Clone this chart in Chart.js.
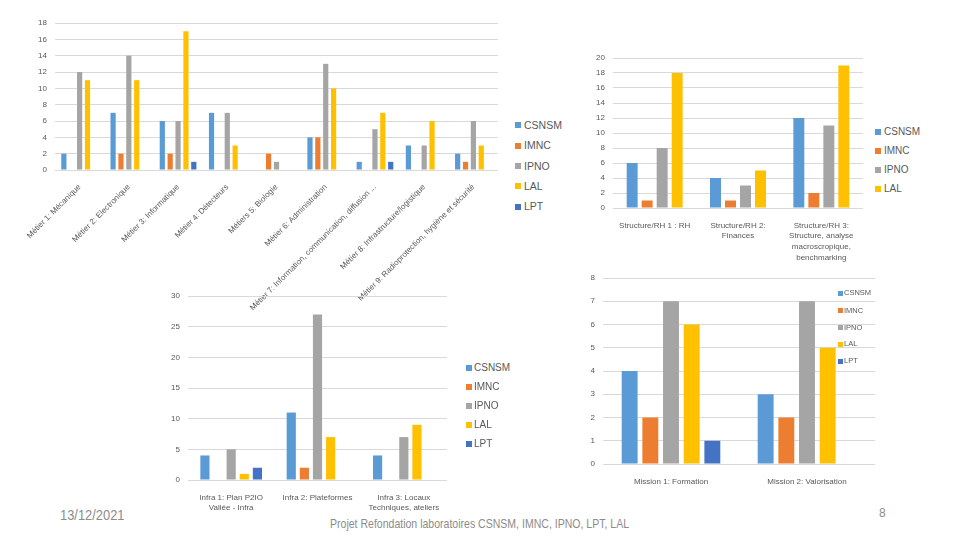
<!DOCTYPE html>
<html><head><meta charset="utf-8">
<script src="https://cdn.jsdelivr.net/npm/chart.js@4"></script>
<style>
body{margin:0;width:960px;height:540px;background:#fff;position:relative;overflow:hidden;font-family:'Liberation Sans',Arial,sans-serif}
canvas{position:absolute}
.lg{position:absolute;white-space:nowrap;color:#595959}
.lg span{position:absolute;display:block}
.ft{position:absolute;color:#8c8c8c;white-space:nowrap;transform-origin:left top}
</style></head><body>
<canvas id="c1" width="480" height="297" style="left:20px;top:13px"></canvas>
<canvas id="c2" width="290" height="215" style="left:580px;top:48px"></canvas>
<canvas id="c3" width="300" height="226" style="left:150px;top:286px"></canvas>
<canvas id="c4" width="310" height="216" style="left:570px;top:268px"></canvas>
<div class="ft" style="left:60px;top:507px;font-size:14px;transform:scaleX(0.92)">13/12/2021</div>
<div class="ft" style="left:330px;top:516px;font-size:13px;transform:scaleX(0.81)">Projet Refondation laboratoires CSNSM, IMNC, IPNO, LPT, LAL</div>
<div class="ft" style="left:879px;top:506px;font-size:12px">8</div>
<script>
const seriesNames = ['CSNSM', 'IMNC', 'IPNO', 'LAL', 'LPT'];
const seriesColors = ['#5B9BD5', '#ED7D31', '#A5A5A5', '#FFC000', '#4472C4'];

// Chart 1 : Métiers
const metierLabels = ['Métier 1: Mécanique', 'Métier 2: Electronique', 'Métier 3: Informatique', 'Métier 4: Détecteurs', 'Métiers 5: Biologie', 'Métier 6: Administration', 'Métier 7: Information, communication, diffusion ...', 'Métier 8: Infrastructure/logistique', 'Métier 9: Radioprotection, hygiène et sécurité'];
const metierCSNSM = [2, 7, 6, 7, 0, 4, 1, 3, 2];
const metierIMNC  = [0, 2, 2, 0, 2, 4, 0, 0, 1];
const metierIPNO  = [12, 14, 6, 7, 1, 13, 5, 3, 6];
const metierLAL   = [11, 11, 17, 3, 0, 10, 7, 6, 3];
const metierLPT   = [0, 0, 1, 0, 0, 0, 1, 0, 0];

// Chart 2 : Structure/RH
const structLabels = ['Structure/RH 1 : RH', ['Structure/RH 2:', 'Finances'], ['Structure/RH 3:', 'Structure, analyse', 'macroscropique,', 'benchmarking']];
const structCSNSM = [6, 4, 12];
const structIMNC  = [1, 1, 2];
const structIPNO  = [8, 3, 11];
const structLAL   = [18, 5, 19];

// Chart 3 : Infra
const infraLabels = [['Infra 1: Plan P2IO', 'Vallée - Infra'], 'Infra 2: Plateformes', ['Infra 3: Locaux', 'Techniques, ateliers']];
const infraCSNSM = [4, 11, 4];
const infraIMNC  = [0, 2, 0];
const infraIPNO  = [5, 27, 7];
const infraLAL   = [1, 7, 9];
const infraLPT   = [2, 0, 0];

// Chart 4 : Missions
const missionLabels = ['Mission 1: Formation', 'Mission 2: Valorisation'];
const missionCSNSM = [4, 3];
const missionIMNC  = [2, 2];
const missionIPNO  = [7, 7];
const missionLAL   = [6, 5];
const missionLPT   = [1, 0];

Chart.defaults.font.family = "'Liberation Sans', Arial, sans-serif";
Chart.defaults.color = '#595959';

function ds(arrays, cat, bar) {
  return arrays.map((a, i) => ({label: seriesNames[i], data: a, backgroundColor: seriesColors[i],
    categoryPercentage: cat, barPercentage: bar}));
}

function makeChart(id, labels, datasets, c) {
  new Chart(document.getElementById(id), {
    type: 'bar',
    data: {labels: labels, datasets: datasets},
    options: {
      responsive: false, animation: false, devicePixelRatio: 1,
      layout: {padding: {top: c.padTop, right: c.padRight, left: 0, bottom: 0}},
      plugins: {legend: {display: false}, tooltip: {enabled: false}},
      scales: {
        x: {
          grid: {display: false}, border: {display: false},
          ticks: {autoSkip: false, maxRotation: c.rot, minRotation: c.rot, padding: c.xPad,
            font: {size: c.xFont, lineHeight: 1.35}, color: '#595959'},
          afterFit: s => { s.height = c.xH; s.paddingLeft = 0; s.paddingRight = 0; }
        },
        y: {
          min: 0, max: c.max,
          grid: {color: '#D9D9D9', drawTicks: false}, border: {display: false},
          ticks: {stepSize: c.step, padding: 8, font: {size: c.yFont}, color: '#595959'},
          afterFit: s => { s.width = c.yW; s.paddingTop = 0; s.paddingBottom = 0; }
        }
      }
    }
  });
}

makeChart('c1', metierLabels, ds([metierCSNSM, metierIMNC, metierIPNO, metierLAL, metierLPT], 0.8, 0.66),
  {padTop: 10, padRight: 2, xH: 140, yW: 35, max: 18, step: 2, rot: 45, xPad: 4, xFont: 8, yFont: 8});
makeChart('c2', structLabels, ds([structCSNSM, structIMNC, structIPNO, structLAL], 0.72, 0.73),
  {padTop: 10, padRight: 7, xH: 55, yW: 33, max: 20, step: 2, rot: 0, xPad: 4, xFont: 8, yFont: 8});
makeChart('c3', infraLabels, ds([infraCSNSM, infraIMNC, infraIPNO, infraLAL, infraLPT], 0.76, 0.7),
  {padTop: 10, padRight: 3, xH: 32, yW: 38, max: 30, step: 5, rot: 0, xPad: 4, xFont: 8, yFont: 8});
makeChart('c4', missionLabels, ds([missionCSNSM, missionIMNC, missionIPNO, missionLAL, missionLPT], 0.76, 0.77),
  {padTop: 10, padRight: 5, xH: 20, yW: 33, max: 8, step: 1, rot: 0, xPad: 4, xFont: 8, yFont: 8});

function legend(x, textX, ys, n, fontSize, box) {
  for (let i = 0; i < n; i++) {
    const d = document.createElement('div');
    d.className = 'lg';
    d.style.left = x + 'px';
    d.style.top = (ys[i] - fontSize / 2 - 1) + 'px';
    d.style.fontSize = fontSize + 'px';
    d.style.lineHeight = (fontSize + 2) + 'px';
    d.style.paddingLeft = (textX - x) + 'px';
    const b = document.createElement('span');
    b.style.left = '0px'; b.style.top = ((fontSize + 2 - box) / 2) + 'px';
    b.style.width = box + 'px'; b.style.height = box + 'px';
    b.style.background = seriesColors[i];
    d.appendChild(b);
    d.appendChild(document.createTextNode(seriesNames[i]));
    document.body.appendChild(d);
  }
}
legend(515, 524, [125, 145.5, 166, 186, 206.5], 5, 10.5, 6);
legend(875, 884, [131.5, 151, 170, 189], 4, 10, 6);
legend(466, 474, [368, 387, 406, 425, 444], 5, 10, 6);
legend(838, 844, [293, 310.5, 327.5, 344, 361], 5, 7.5, 5);
</script>
</body></html>
